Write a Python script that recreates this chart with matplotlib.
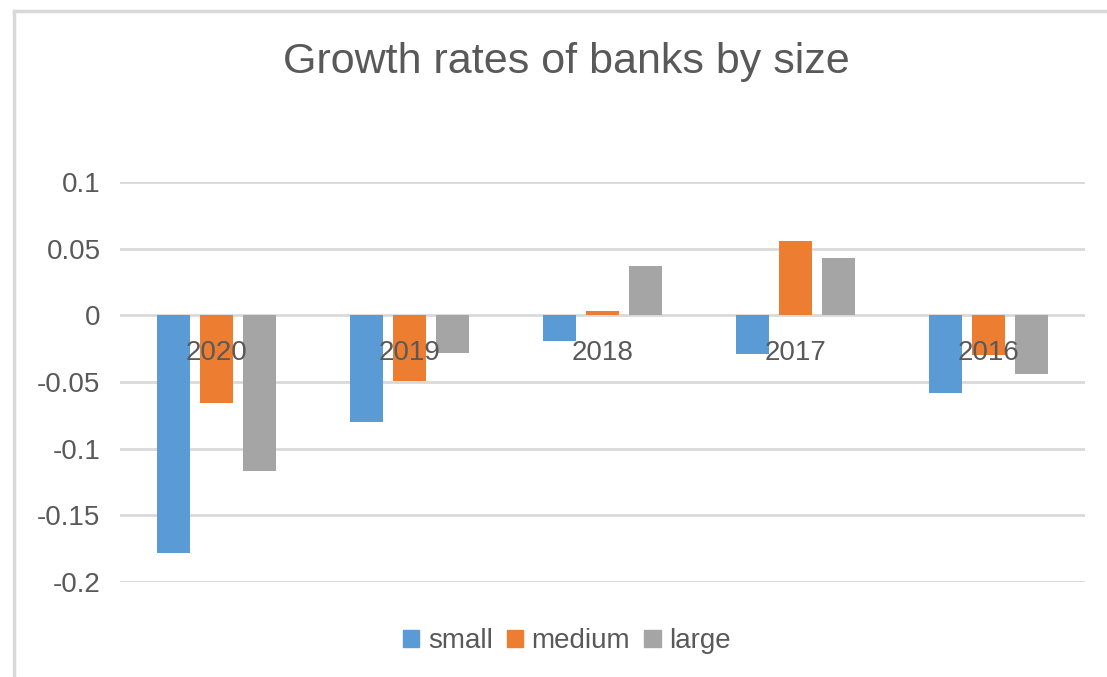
import matplotlib
matplotlib.use("Agg")
import matplotlib.pyplot as plt
from matplotlib.lines import Line2D
from matplotlib.patches import Patch
import numpy as np

years = ["2020", "2019", "2018", "2017", "2016"]
small = [-0.178, -0.080, -0.019, -0.029, -0.058]
medium = [-0.066, -0.049, 0.003, 0.056, -0.030]
large = [-0.117, -0.028, 0.037, 0.043, -0.044]

series = [("small", small, "#5B9BD5"),
          ("medium", medium, "#ED7D31"),
          ("large", large, "#A5A5A5")]

text_col = "#595959"
grid_col = "#D9D9D9"
plt.rcParams['font.family'] = ['Liberation Sans', 'DejaVu Sans']

fig = plt.figure(figsize=(11.07, 6.77), dpi=100)
ax = fig.add_axes([0.1084, 0.1403, 0.8716, 0.5909])

x = np.arange(len(years))
w = 0.171
step = 0.223
for i, (name, vals, col) in enumerate(series):
    ax.bar(x + (i - 1) * step, vals, width=w, color=col, label=name, zorder=3)

ax.set_xlim(-0.5, len(years) - 0.5)
ax.set_ylim(-0.2, 0.1)
yt = [0.1, 0.05, 0, -0.05, -0.1, -0.15, -0.2]
ax.set_yticks(yt)
ax.set_yticklabels(["0.1", "0.05", "0", "-0.05", "-0.1", "-0.15", "-0.2"])
ax.tick_params(axis='y', length=0, pad=14, labelsize=20, labelcolor=text_col)
ax.set_xticks([])
for v in yt:
    ax.axhline(v, color=grid_col, lw=2, zorder=1)
for s in ax.spines.values():
    s.set_visible(False)

# year labels sit just under the zero line, over the bars
for xi, yr in zip(x, years):
    ax.annotate(yr, (xi, 0), xytext=(0, -38), textcoords='offset pixels',
                ha='center', va='center', fontsize=20, color=text_col, zorder=4)

fig.text(0.512, 0.908, "Growth rates of banks by size", ha='center', va='center',
         fontsize=31, color=text_col)

handles = [Patch(color=c, label=n) for n, _, c in series]
fig.legend(handles=handles, loc='center', bbox_to_anchor=(0.512, 0.053), ncol=3,
           frameon=False, fontsize=20, handlelength=0.6, handleheight=0.6,
           handletextpad=0.3, columnspacing=0.5, labelcolor=text_col)

# chart frame
fig.add_artist(Line2D([0.013, 0.013], [0, 0.984], transform=fig.transFigure, color=grid_col, lw=2.5))
fig.add_artist(Line2D([0.013, 1.0], [0.984, 0.984], transform=fig.transFigure, color=grid_col, lw=2.5))

fig.savefig("out.png", dpi=100, facecolor="white")
